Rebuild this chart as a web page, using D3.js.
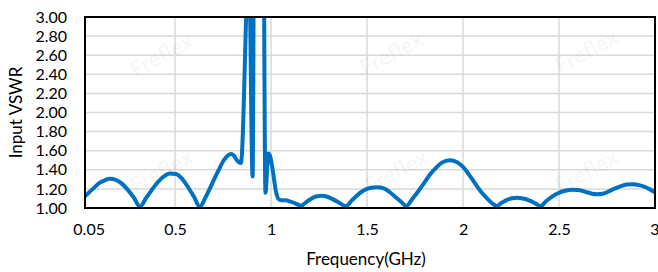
<!DOCTYPE html>
<html>
<head>
<meta charset="utf-8">
<script src="https://cdn.jsdelivr.net/npm/d3@7"></script>
<style>
  html, body { margin: 0; padding: 0; background: #fff; }
  svg { display: block; }
  text { font-family: Lato, "Open Sans", sans-serif; fill: #000; }
</style>
</head>
<body>
<svg id="chart" width="658" height="272"></svg>
<script>
// ---- Data ----
const freqGHz = [
  0.035, 0.072, 0.108, 0.134, 0.160, 0.192, 0.223, 0.254, 0.285, 0.317,
  0.348, 0.379, 0.410, 0.442, 0.473, 0.504, 0.535, 0.567, 0.598, 0.629,
  0.661, 0.692, 0.723, 0.754, 0.775, 0.791, 0.806, 0.822, 0.843, 0.885,
  0.904, 0.916, 0.955, 0.971, 0.986, 0.994, 1.010, 1.025, 1.041, 1.057,
  1.077, 1.098, 1.119, 1.140, 1.158, 1.182, 1.208, 1.234, 1.265, 1.296,
  1.328, 1.359, 1.390, 1.421, 1.453, 1.484, 1.515, 1.552, 1.588, 1.619,
  1.651, 1.677, 1.705, 1.734, 1.765, 1.797, 1.828, 1.859, 1.890, 1.932,
  1.969, 2.000, 2.031, 2.062, 2.094, 2.125, 2.151, 2.174, 2.198, 2.224,
  2.250, 2.281, 2.312, 2.344, 2.375, 2.404, 2.432, 2.464, 2.495, 2.531,
  2.573, 2.610, 2.646, 2.672, 2.698, 2.729, 2.761, 2.792, 2.823, 2.854,
  2.886, 2.917, 2.948, 2.974, 3.000
];
const inputVSWR = [
  1.13, 1.20, 1.265, 1.29, 1.305, 1.295, 1.255, 1.19, 1.11, 1.015,
  1.10, 1.19, 1.27, 1.33, 1.36, 1.355, 1.31, 1.22, 1.12, 1.015,
  1.12, 1.25, 1.38, 1.50, 1.55, 1.565, 1.55, 1.50, 1.47, 3.60,
  1.33, 6.00, 6.00, 1.16, 1.57, 1.55, 1.38, 1.18, 1.09, 1.08,
  1.08, 1.07, 1.055, 1.035, 1.025, 1.06, 1.095, 1.12, 1.127, 1.115,
  1.085, 1.05, 1.02, 1.08, 1.14, 1.185, 1.21, 1.218, 1.205, 1.165,
  1.11, 1.065, 1.02, 1.09, 1.17, 1.26, 1.35, 1.42, 1.475, 1.50,
  1.48, 1.43, 1.35, 1.26, 1.17, 1.10, 1.05, 1.02, 1.05, 1.08,
  1.10, 1.108, 1.10, 1.08, 1.05, 1.02, 1.07, 1.12, 1.155, 1.18,
  1.19, 1.185, 1.165, 1.15, 1.145, 1.15, 1.175, 1.205, 1.23, 1.245,
  1.248, 1.24, 1.22, 1.195, 1.165
];
const xTickValues = [0.05, 0.5, 1, 1.5, 2, 2.5, 3];
const xTickLabels = ["0.05", "0.5", "1", "1.5", "2", "2.5", "3"];
const yTickValues = [1.0, 1.2, 1.4, 1.6, 1.8, 2.0, 2.2, 2.4, 2.6, 2.8, 3.0];
const xTitle = "Frequency(GHz)";
const yTitle = "Input VSWR";
const watermarkText = "Freflex";

// ---- Layout ----
const svg = d3.select("#chart");
const plot = { left: 85, right: 655, top: 17, bottom: 208 };

const x = d3.scaleLinear().domain([0.031, 3]).range([plot.left, plot.right]);
const y = d3.scaleLinear().domain([1, 3]).range([plot.bottom, plot.top]);

// gridlines
const grid = svg.append("g");
grid.selectAll("line.h")
  .data(yTickValues.filter(v => v > 1 && v < 3))
  .join("line")
  .attr("x1", plot.left).attr("x2", plot.right)
  .attr("y1", d => y(d)).attr("y2", d => y(d))
  .attr("stroke", "#d9d9d9").attr("stroke-width", 1.5);
grid.selectAll("line.v")
  .data(xTickValues.filter(v => v > 0.05 && v < 3))
  .join("line")
  .attr("y1", plot.top).attr("y2", plot.bottom)
  .attr("x1", d => x(d)).attr("x2", d => x(d))
  .attr("stroke", "#d9d9d9").attr("stroke-width", 1.5);

// faint watermark (kept inside the picture)
const wm = [[165, 62], [395, 60], [590, 58], [165, 178], [400, 178], [590, 178]];
svg.append("g").attr("pointer-events", "none")
  .selectAll("text").data(wm).join("text")
  .attr("transform", d => `translate(${d[0]},${d[1]}) rotate(-28)`)
  .attr("text-anchor", "middle")
  .style("font-size", "22px").style("font-weight", "bold")
  .style("fill", "#000").style("fill-opacity", 0.05)
  .text(watermarkText);

// clip
svg.append("clipPath").attr("id", "plotclip")
  .append("rect")
  .attr("x", plot.left).attr("y", plot.top)
  .attr("width", plot.right - plot.left).attr("height", plot.bottom - plot.top + 1);

const data = freqGHz.map((f, i) => [f, inputVSWR[i]]);
const line = d3.line()
  .x(d => x(d[0]))
  .y(d => y(d[1]))
  .curve(d3.curveMonotoneX);

svg.append("path")
  .datum(data)
  .attr("clip-path", "url(#plotclip)")
  .attr("d", line)
  .attr("fill", "none")
  .attr("stroke", "#0070C0")
  .attr("stroke-width", 4)
  .attr("stroke-linejoin", "round")
  .attr("stroke-linecap", "round");

// frame
svg.append("rect")
  .attr("x", plot.left).attr("y", plot.top)
  .attr("width", plot.right - plot.left).attr("height", plot.bottom - plot.top)
  .attr("fill", "none").attr("stroke", "#000").attr("stroke-width", 2);

// axes (labels only, via d3 axis generators)
const yAxis = d3.axisLeft(y).tickValues(yTickValues).tickFormat(d3.format(".2f")).tickSize(0).tickPadding(18);
const gy = svg.append("g").attr("transform", `translate(${plot.left},0)`).call(yAxis);
gy.select(".domain").remove();
gy.selectAll("text").style("font-family", "Lato, 'Open Sans', sans-serif").style("font-size", "16px").attr("fill", "#000");

const xAxis = d3.axisBottom(x).tickValues(xTickValues)
  .tickFormat((d, i) => xTickLabels[i]).tickSize(0).tickPadding(16);
const gx = svg.append("g").attr("transform", `translate(0,${plot.bottom})`).call(xAxis);
gx.select(".domain").remove();
gx.selectAll("text").style("font-family", "Lato, 'Open Sans', sans-serif").style("font-size", "16px").attr("fill", "#000");
// keep the last label ("3") inside the picture
gx.selectAll("text").filter(d => d === 3).attr("text-anchor", "end").attr("dx", "4px");

// titles
svg.append("text")
  .attr("x", 366).attr("y", 265)
  .attr("text-anchor", "middle")
  .style("font-size", "17px")
  .text(xTitle);
svg.append("text")
  .attr("transform", `translate(22,${(plot.top + plot.bottom) / 2}) rotate(-90)`)
  .attr("text-anchor", "middle")
  .style("font-size", "17px")
  .text(yTitle);
</script>
</body>
</html>
